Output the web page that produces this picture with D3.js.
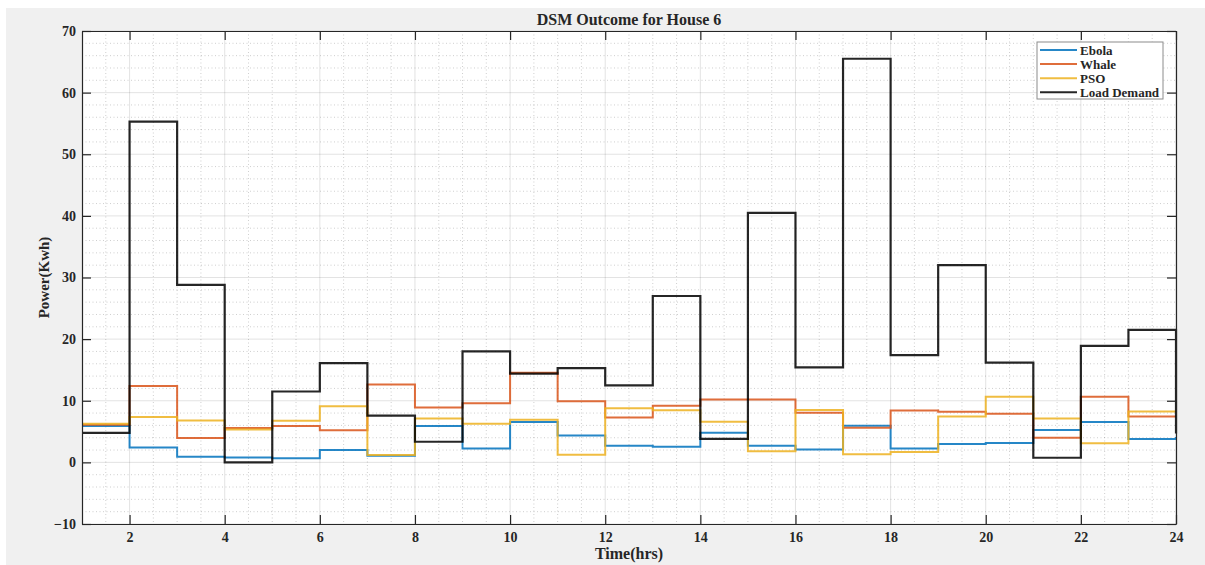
<!DOCTYPE html>
<html>
<head>
<meta charset="utf-8">
<script src="https://cdn.jsdelivr.net/npm/d3@7"></script>
<style>
  html, body { margin: 0; padding: 0; background: #ffffff; }
  svg { display: block; }
  text { font-family: "Liberation Serif", "Times New Roman", serif; font-weight: bold; fill: #262626; }
</style>
</head>
<body>
<svg id="chart" width="1205" height="565"></svg>
<script>
// ---- data ----
const hours = [1,2,3,4,5,6,7,8,9,10,11,12,13,14,15,16,17,18,19,20,21,22,23,24];
const ebola = [5.9, 2.4, 0.9, 0.8, 0.65, 2.0, 1.07, 5.9, 2.27, 6.55, 4.38, 2.7, 2.55, 4.8, 2.7, 2.1, 5.95, 2.27, 3.0, 3.13, 5.25, 6.55, 3.8, 4.1];
const whale = [6.1, 12.4, 3.95, 5.57, 5.9, 5.2, 12.65, 8.9, 9.6, 14.55, 9.9, 7.3, 9.2, 10.2, 10.2, 8.05, 5.6, 8.4, 8.2, 7.9, 4.0, 10.65, 7.45, 7.4];
const pso = [6.27, 7.35, 6.8, 5.35, 6.75, 9.1, 1.2, 7.1, 6.27, 6.9, 1.25, 8.8, 8.45, 6.6, 1.8, 8.5, 1.3, 1.7, 7.45, 10.65, 7.1, 3.1, 8.25, 8.25];
const loadDemand = [4.8, 55.3, 28.8, 0, 11.5, 16.1, 7.6, 3.35, 18, 14.4, 15.3, 12.5, 27, 3.8, 40.5, 15.4, 65.5, 17.4, 32.0, 16.2, 0.75, 18.9, 21.5, 4.7];
const seriesNames = ["Ebola", "Whale", "PSO", "Load Demand"];
const seriesColors = ["#0072BD", "#D95319", "#EDB120", "#000000"];
const xTickValues = [2,4,6,8,10,12,14,16,18,20,22,24];
const yTickValues = [-10,0,10,20,30,40,50,60,70];
const titleText = "DSM Outcome for House 6";
const xLabelText = "Time(hrs)";
const yLabelText = "Power(Kwh)";

// ---- layout ----
const W = 1205, H = 565;
const plot = { left: 82, right: 1176, top: 31, bottom: 524 };
const svg = d3.select("#chart");

// figure background
svg.append("rect").attr("x", 6).attr("y", 8).attr("width", W - 6).attr("height", H - 8).attr("fill", "#f0f0f0");

const x = d3.scaleLinear().domain([1, 24]).range([plot.left, plot.right]);
const y = d3.scaleLinear().domain([-10, 70]).range([plot.bottom, plot.top]);

// axes background
svg.append("rect").attr("x", plot.left).attr("y", plot.top)
  .attr("width", plot.right - plot.left).attr("height", plot.bottom - plot.top).attr("fill", "#ffffff");

// minor grid
const gMinor = svg.append("g");
d3.range(1.5, 24, 0.5).filter(v => !xTickValues.includes(v)).forEach(v => {
  gMinor.append("line").attr("x1", x(v)).attr("x2", x(v)).attr("y1", plot.top).attr("y2", plot.bottom);
});
d3.range(-8, 70, 2).filter(v => !yTickValues.includes(v)).forEach(v => {
  gMinor.append("line").attr("y1", y(v)).attr("y2", y(v)).attr("x1", plot.left).attr("x2", plot.right);
});
gMinor.selectAll("line").attr("stroke", "#262626").attr("stroke-opacity", 0.22)
  .attr("stroke-width", 1).attr("stroke-dasharray", "1,2.5");

// major grid
const gMajor = svg.append("g");
xTickValues.forEach(v => gMajor.append("line").attr("x1", x(v)).attr("x2", x(v)).attr("y1", plot.top).attr("y2", plot.bottom));
yTickValues.forEach(v => gMajor.append("line").attr("y1", y(v)).attr("y2", y(v)).attr("x1", plot.left).attr("x2", plot.right));
gMajor.selectAll("line").attr("stroke", "#262626").attr("stroke-opacity", 0.13).attr("stroke-width", 1);

// series (stairs)
const allSeries = [ebola, whale, pso, loadDemand];
const line = d3.line().x((d, i) => x(hours[i])).y(d => y(d)).curve(d3.curveStepAfter);
allSeries.forEach((s, k) => {
  svg.append("path").datum(s).attr("d", line).attr("fill", "none")
    .attr("stroke", seriesColors[k]).attr("stroke-width", k === 3 ? 2.2 : 2)
    .attr("stroke-opacity", 0.85);
});

// axes with inward ticks
const tickLen = 9;
const xAxisB = d3.axisBottom(x).tickValues(xTickValues).tickSizeInner(-tickLen).tickSizeOuter(0).tickPadding(8).tickFormat(d3.format("d"));
const gxb = svg.append("g").attr("transform", `translate(0,${plot.bottom})`).call(xAxisB);
const xAxisT = d3.axisTop(x).tickValues(xTickValues).tickSizeInner(-tickLen).tickSizeOuter(0).tickFormat("");
const gxt = svg.append("g").attr("transform", `translate(0,${plot.top})`).call(xAxisT);
const yAxisL = d3.axisLeft(y).tickValues(yTickValues).tickSizeInner(-tickLen).tickSizeOuter(0).tickPadding(6).tickFormat(d3.format("d"));
const gyl = svg.append("g").attr("transform", `translate(${plot.left},0)`).call(yAxisL);
const yAxisR = d3.axisRight(y).tickValues(yTickValues).tickSizeInner(-tickLen).tickSizeOuter(0).tickFormat("");
const gyr = svg.append("g").attr("transform", `translate(${plot.right},0)`).call(yAxisR);
[gxb, gxt, gyl, gyr].forEach(g => {
  g.select(".domain").attr("stroke", "#262626").attr("stroke-width", 1.2);
  g.selectAll(".tick line").attr("stroke", "#262626").attr("stroke-width", 1.2);
  g.selectAll(".tick text").attr("font-family", "Liberation Serif, Times New Roman, serif")
    .attr("font-weight", "bold").attr("font-size", 14).attr("fill", "#262626");
});

// title and labels
svg.append("text").attr("x", (plot.left + plot.right) / 2).attr("y", 25)
  .attr("text-anchor", "middle").attr("font-size", 16).text(titleText);
svg.append("text").attr("x", (plot.left + plot.right) / 2).attr("y", 559)
  .attr("text-anchor", "middle").attr("font-size", 16).text(xLabelText);
svg.append("text").attr("transform", `translate(49,${(plot.top + plot.bottom) / 2}) rotate(-90)`)
  .attr("text-anchor", "middle").attr("font-size", 15).text(yLabelText);

// legend
const lg = svg.append("g");
const lgX = 1037, lgY = 42, lgW = 126, lgH = 57;
lg.append("rect").attr("x", lgX).attr("y", lgY).attr("width", lgW).attr("height", lgH)
  .attr("fill", "#ffffff").attr("stroke", "#8c8c8c").attr("stroke-width", 1);
seriesNames.forEach((name, i) => {
  const cy = lgY + 8 + i * 14.1;
  lg.append("line").attr("x1", lgX + 3).attr("x2", lgX + 40).attr("y1", cy).attr("y2", cy)
    .attr("stroke", seriesColors[i]).attr("stroke-width", 2).attr("stroke-opacity", 0.85);
  lg.append("text").attr("x", lgX + 43).attr("y", cy + 4.5).attr("font-size", 13).text(name);
});
</script>
</body>
</html>
